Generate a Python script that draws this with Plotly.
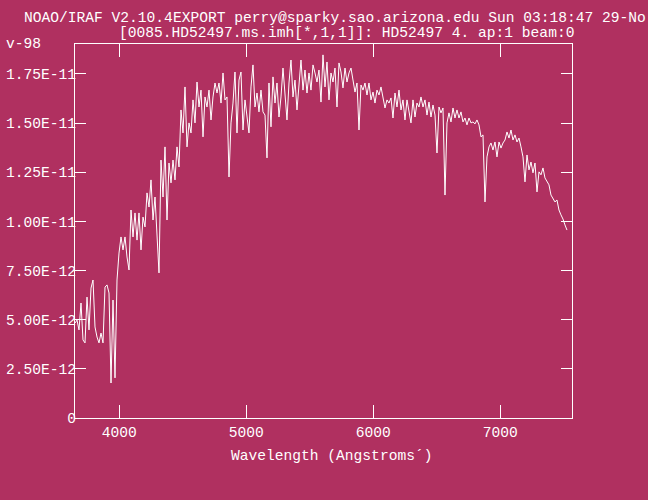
import plotly.graph_objects as go

# Linear dispersion of the spectrum (start wavelength and step, Angstrom)
W0 = 3651.0
DW = 15.75

# Flux in units of 1e-11 erg/cm2/s/A
flux = [
    0.483, 0.498, 0.448, 0.585, 0.397, 0.382, 0.615, 0.448, 0.661, 0.702,
    0.463, 0.412, 0.382, 0.432, 0.382, 0.666, 0.677, 0.636, 0.178, 0.600,
    0.204, 0.702, 0.839, 0.921, 0.855, 0.921, 0.819, 0.753, 1.058, 0.921,
    1.043, 0.905, 1.043, 0.855, 1.022, 0.972, 1.145, 1.073, 1.211, 1.007,
    1.124, 0.941, 0.738, 1.312, 1.124, 1.379, 1.007, 1.297, 1.196, 1.312,
    1.211, 1.379, 1.277, 1.567, 1.450, 1.684, 1.379, 1.501, 1.450, 1.618,
    1.501, 1.709, 1.582, 1.668, 1.430, 1.633, 1.582, 1.668, 1.516, 1.633,
    1.704, 1.653, 1.704, 1.602, 1.755, 1.618, 1.633, 1.226, 1.501, 1.602,
    1.760, 1.450, 1.719, 1.760, 1.465, 1.618, 1.531, 1.450, 1.684, 1.796,
    1.582, 1.653, 1.557, 1.668, 1.557, 1.541, 1.323, 1.704, 1.481, 1.735,
    1.602, 1.704, 1.531, 1.633, 1.780, 1.653, 1.516, 1.704, 1.821, 1.633,
    1.719, 1.567, 1.684, 1.821, 1.668, 1.770, 1.653, 1.755, 1.668, 1.796,
    1.755, 1.709, 1.770, 1.607, 1.847, 1.684, 1.811, 1.618, 1.755, 1.709,
    1.780, 1.582, 1.806, 1.760, 1.679, 1.780, 1.709, 1.755, 1.780, 1.709,
    1.658, 1.704, 1.465, 1.694, 1.668, 1.704, 1.643, 1.704, 1.618, 1.658,
    1.602, 1.668, 1.643, 1.684, 1.618, 1.577, 1.618, 1.602, 1.628, 1.526,
    1.653, 1.582, 1.668, 1.567, 1.618, 1.516, 1.618, 1.552, 1.501, 1.618,
    1.531, 1.602, 1.582, 1.633, 1.582, 1.618, 1.541, 1.607, 1.531, 1.592,
    1.541, 1.348, 1.582, 1.552, 1.577, 1.134, 1.501, 1.552, 1.506, 1.577,
    1.526, 1.567, 1.526, 1.557, 1.506, 1.526, 1.491, 1.526, 1.501, 1.506,
    1.496, 1.516, 1.491, 1.430, 1.440, 1.099, 1.328, 1.379, 1.399, 1.363,
    1.404, 1.328, 1.404, 1.373, 1.399, 1.414, 1.455, 1.424, 1.465, 1.414,
    1.440, 1.404, 1.424, 1.379, 1.328, 1.201, 1.338, 1.262, 1.302, 1.247,
    1.297, 1.150, 1.252, 1.237, 1.272, 1.221, 1.201, 1.186, 1.134, 1.119,
    1.099, 1.109, 1.058, 1.033, 1.012, 0.982, 0.956,
]
wavelength = [W0 + DW * i for i in range(len(flux))]

x_tickvals = [4000, 5000, 6000, 7000]
x_ticktext = ["4000", "5000", "6000", "7000"]
y_tickvals = [0, 0.25, 0.5, 0.75, 1.0, 1.25, 1.5, 1.75]
y_ticktext = ["0", "2.50E-12", "5.00E-12", "7.50E-12",
              "1.00E-11", "1.25E-11", "1.50E-11", "1.75E-11"]

title1 = "NOAO/IRAF V2.10.4EXPORT perry@sparky.sao.arizona.edu Sun 03:18:47 29-No"
title2 = "[0085.HD52497.ms.imh[*,1,1]]: HD52497 4. ap:1 beam:0"
title3 = "v-98"
xlabel = "Wavelength (Angstroms\u00b4)"

BG = "#B03060"
FG = "white"
FONT = dict(family="Liberation Mono, DejaVu Sans Mono, monospace", size=14.6, color=FG)

fig = go.Figure()
fig.add_trace(go.Scatter(x=wavelength, y=flux, mode="lines",
                         line=dict(color=FG, width=1), hoverinfo="skip"))

axis_common = dict(showgrid=False, zeroline=False, showline=True, linecolor=FG,
                   linewidth=1, mirror="ticks", ticks="inside", tickcolor=FG,
                   tickwidth=1, tickfont=FONT, automargin=False)

fig.update_layout(
    template="none",
    width=648, height=500,
    margin=dict(l=75, r=76, t=44, b=82, autoexpand=False),
    paper_bgcolor=BG, plot_bgcolor=BG,
    showlegend=False,
    font=FONT,
    xaxis=dict(range=[3651, 7565], tickvals=x_tickvals, ticktext=x_ticktext,
               ticklen=13, **axis_common),
    yaxis=dict(range=[0, 1.9024], tickvals=y_tickvals, ticktext=y_ticktext,
               ticklen=11, ticklabelstandoff=-5, **axis_common),
)

def ann(text, x, y, xanchor="left"):
    fig.add_annotation(text=text, x=x, y=y, xref="paper", yref="paper",
                       xanchor=xanchor, yanchor="middle", showarrow=False,
                       font=FONT, borderpad=0)

ann(title1, -0.1046, 1.0695)
ann(title2, 0.0857, 1.0294)
ann(title3, -0.1408, 1.0)
ann(xlabel, 0.517, -0.1016, xanchor="center")

fig.write_html(
    "out.html",
    config={"displayModeBar": False},
    post_script="document.body.style.margin='0';document.body.style.overflow='hidden';",
)
